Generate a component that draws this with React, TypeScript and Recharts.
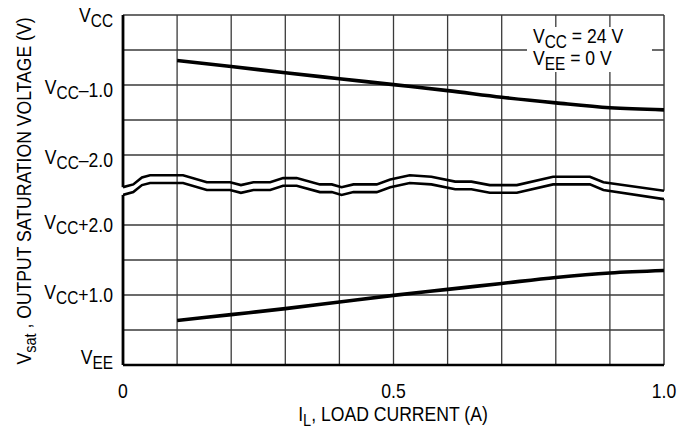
import React from 'react'
import { LineChart, Line, XAxis, YAxis, ReferenceLine, Label } from 'recharts'

// load current (A)
const currentA = [0.1, 0.2, 0.3, 0.4, 0.5, 0.6, 0.7, 0.8, 0.9, 1.0]
// chart position units: 0 = VEE, 5 = VCC, 0.5 per grid division, axis broken between 2 and 3
const highSide = [4.35, 4.265, 4.175, 4.09, 4.005, 3.92, 3.825, 3.745, 3.675, 3.645]
const lowSide = [0.635, 0.72, 0.805, 0.9, 0.995, 1.08, 1.165, 1.25, 1.315, 1.35]

// axis break (wavy double line)
const breakX = [0, 0.019, 0.035, 0.05, 0.111, 0.155, 0.198, 0.218, 0.241, 0.272, 0.296, 0.321, 0.364, 0.386,
  0.404, 0.426, 0.469, 0.494, 0.53, 0.57, 0.614, 0.644, 0.678, 0.728, 0.795, 0.863, 0.888, 1.0]
const breakUpper = [2.54, 2.58, 2.68, 2.71, 2.71, 2.61, 2.61, 2.57, 2.61, 2.61, 2.67, 2.67, 2.58, 2.58,
  2.54, 2.58, 2.58, 2.65, 2.71, 2.69, 2.62, 2.62, 2.57, 2.57, 2.69, 2.69, 2.61, 2.49]
const breakLower = [2.43, 2.47, 2.57, 2.60, 2.60, 2.50, 2.50, 2.46, 2.50, 2.50, 2.56, 2.56, 2.47, 2.47,
  2.43, 2.47, 2.47, 2.54, 2.60, 2.58, 2.51, 2.51, 2.46, 2.46, 2.58, 2.58, 2.50, 2.37]

const xTicks = [0, 0.5, 1.0]
const xTickLabels = ['0', '0.5', '1.0']
const yTicks = [0, 1, 2, 3, 4, 5]
const yTickLabels: [string, string, string][] = [
  ['V', 'EE', ''], ['V', 'CC', '+1.0'], ['V', 'CC', '+2.0'],
  ['V', 'CC', '–2.0'], ['V', 'CC', '–1.0'], ['V', 'CC', ''],
]
const vGrid = [0.1, 0.2, 0.3, 0.4, 0.5, 0.6, 0.7, 0.8, 0.9]
const hGrid = [0.5, 1, 1.5, 2, 3, 3.5, 4, 4.5]

const FONT = '"Liberation Sans", Arial, Helvetica, sans-serif'
const NARROW = 0.88 // squeeze Liberation Sans to look like the condensed original
const FS = 20
const SUB = 17.5
const GRID = '#3a3a3a'
const yTickDy: Record<number, number> = { 0: -1, 1: 4, 2: 4, 3: 9, 4: 9, 5: 7 }

const toPts = (xs: number[], ys: number[]) => xs.map((x, i) => ({ x, y: ys[i] }))

const YTick = (props: any) => {
  const { y, payload } = props
  const idx = yTicks.indexOf(payload.value)
  const [v, sub, rest] = yTickLabels[idx]
  return (
    <g transform={`translate(113, ${y + yTickDy[payload.value]}) scale(${NARROW}, 1)`}>
      <text x={0} y={0} textAnchor="end" fontFamily={FONT} fontSize={FS} fill="#000">
        <tspan>{v}</tspan>
        <tspan fontSize={SUB} dy={5}>{sub}</tspan>
        {rest && <tspan dy={-2}>{rest}</tspan>}
      </text>
    </g>
  )
}

const XTick = (props: any) => {
  const { x, payload } = props
  const idx = xTicks.indexOf(payload.value)
  return (
    <g transform={`translate(${x}, 398) scale(${NARROW}, 1)`}>
      <text x={0} y={0} textAnchor="middle" fontFamily={FONT} fontSize={FS} fill="#000">
        {xTickLabels[idx]}
      </text>
    </g>
  )
}

export default function App() {
  const upper = toPts(breakX, breakUpper)
  const lower = toPts(breakX, breakLower)
  return (
    <div style={{ position: 'absolute', left: 0, top: 0, width: 697, height: 439, background: '#fff' }}>
      <LineChart width={697} height={439} margin={{ top: 15, right: 33, bottom: 34, left: 13 }}>
        <XAxis type="number" dataKey="x" domain={[0, 1]} ticks={xTicks} tick={<XTick />} tickLine={false}
          axisLine={{ stroke: '#000', strokeWidth: 2.5 }} height={40} allowDataOverflow>
          <Label content={() => (
            <g transform={`translate(393, 421) scale(${NARROW}, 1)`}>
              <text x={0} y={0} textAnchor="middle" fontFamily={FONT} fontSize={FS} fill="#000">
                <tspan>I</tspan><tspan fontSize={SUB - 1} dy={5}>L</tspan><tspan dy={-5}>, LOAD CURRENT (A)</tspan>
              </text>
            </g>
          )} />
        </XAxis>
        <YAxis type="number" domain={[0, 5]} ticks={yTicks} tick={<YTick />} tickLine={false} axisLine={false} width={110}>
          <Label content={() => (
            <g transform={`translate(31, 191) rotate(-90) scale(${NARROW}, 1)`}>
              <text x={0} y={0} textAnchor="middle" fontFamily={FONT} fontSize={FS} fill="#000">
                <tspan>V</tspan><tspan fontSize={SUB - 1} dy={5}>sat</tspan><tspan dy={-5}> , OUTPUT SATURATION VOLTAGE (V)</tspan>
              </text>
            </g>
          )} />
        </YAxis>

        {vGrid.map(v => <ReferenceLine key={'v' + v} x={v} stroke={GRID} strokeWidth={1.3} />)}
        {hGrid.map(h => <ReferenceLine key={'h' + h} y={h} stroke={GRID} strokeWidth={1.3} />)}
        <ReferenceLine y={5} stroke={GRID} strokeWidth={1.5} />
        {/* frame pieces, interrupted by the axis break */}
        <ReferenceLine segment={[{ x: 1, y: 0 }, { x: 1, y: breakLower[breakLower.length - 1] }]} stroke={GRID} strokeWidth={1.5} />
        <ReferenceLine segment={[{ x: 1, y: breakUpper[breakUpper.length - 1] }, { x: 1, y: 5 }]} stroke={GRID} strokeWidth={1.5} />
        <ReferenceLine segment={[{ x: 0, y: 0 }, { x: 0, y: breakLower[0] }]} stroke="#000" strokeWidth={2.8} />
        <ReferenceLine segment={[{ x: 0, y: breakUpper[0] }, { x: 0, y: 5 }]} stroke="#000" strokeWidth={2.8} />

        <Line data={upper} dataKey="y" type="linear" stroke="#000" strokeWidth={2.6} dot={false} isAnimationActive={false} />
        <Line data={lower} dataKey="y" type="linear" stroke="#000" strokeWidth={2.6} dot={false} isAnimationActive={false} />
        <Line data={toPts(currentA, highSide)} dataKey="y" type="monotone" stroke="#000" strokeWidth={3.6} dot={false} isAnimationActive={false} />
        <Line data={toPts(currentA, lowSide)} dataKey="y" type="monotone" stroke="#000" strokeWidth={3.6} dot={false} isAnimationActive={false} />
      </LineChart>

      <svg width={697} height={439} style={{ position: 'absolute', left: 0, top: 0, pointerEvents: 'none' }}>
        <rect x={527} y={27} width={125} height={45} fill="#fff" />
        <g transform={`translate(533, 43) scale(${NARROW}, 1)`}>
          <text x={0} y={0} fontFamily={FONT} fontSize={FS} fill="#000">
            <tspan>V</tspan><tspan fontSize={SUB} dy={5}>CC</tspan><tspan dy={-5}> = 24 V</tspan>
          </text>
        </g>
        <g transform={`translate(533, 65) scale(${NARROW}, 1)`}>
          <text x={0} y={0} fontFamily={FONT} fontSize={FS} fill="#000">
            <tspan>V</tspan><tspan fontSize={SUB} dy={5}>EE</tspan><tspan dy={-5}> = 0 V</tspan>
          </text>
        </g>
      </svg>
    </div>
  )
}
